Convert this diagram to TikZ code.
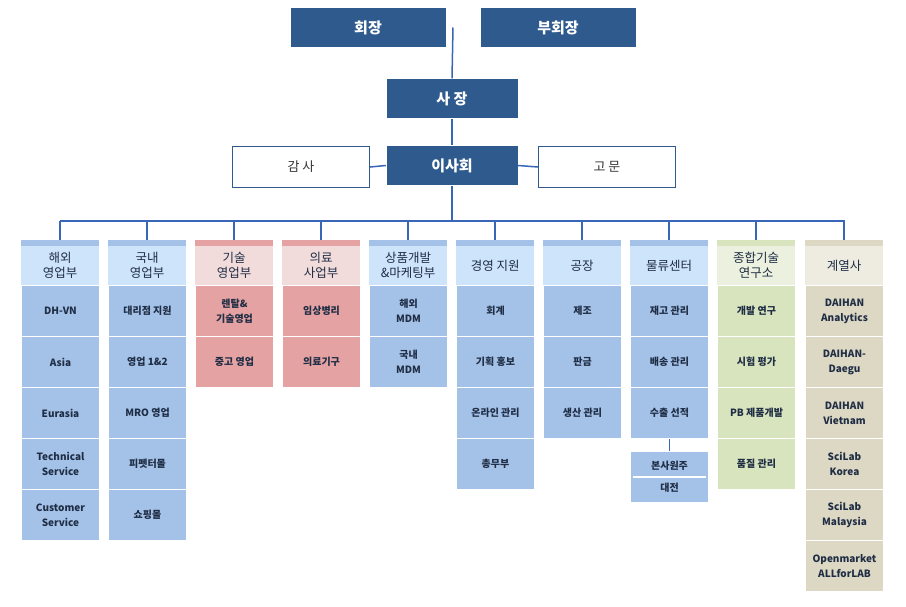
\documentclass[tikz,border=0pt]{standalone}
\usepackage{fontspec}
\setmainfont{Noto Sans CJK KR}
\begin{document}
\begin{tikzpicture}[x=1pt,y=-1pt,
  title/.style={draw=white,fill=titleblue,text=white,font=\fontsize{15}{17}\selectfont\bfseries,inner sep=0pt,align=center},
  wbox/.style={draw=titleblue,line width=1.2pt,fill=white,text=black!80,font=\fontsize{13}{15}\selectfont,inner sep=0pt},
  cell/.style={draw=white,line width=1pt,inner sep=0pt,align=center,text=txt,font=\fontsize{10}{15}\selectfont\bfseries,minimum width=78pt},
  hdr/.style={inner sep=0pt,align=center,text=txt,font=\fontsize{12.5}{15}\selectfont,minimum width=78pt},
  conn/.style={draw=linkblue,line width=1.5pt}]
\definecolor{titleblue}{HTML}{2F5A8E}
\definecolor{linkblue}{HTML}{3A66B8}
\definecolor{txt}{HTML}{1F2D45}
\definecolor{bc}{HTML}{A4C2E8}\definecolor{bh}{HTML}{CDE4FA}
\definecolor{rc}{HTML}{E4A2A2}\definecolor{rh}{HTML}{F2DCDB}
\definecolor{gc}{HTML}{D8E4BD}\definecolor{gh}{HTML}{EBF1DE}
\definecolor{tc}{HTML}{DDD8C3}\definecolor{th}{HTML}{EEECE1}
\useasboundingbox (0,0) rectangle (906,606);
\fill[white] (0,0) rectangle (906,606);
% top
\node[title,minimum width=156pt,minimum height=40pt] (chair) at (368,27.5) {회장};
\node[title,minimum width=156pt,minimum height=40pt] (vice) at (558,27.5) {부회장};
\coordinate (mid) at (453,27.5);
\node[title,minimum width=132pt,minimum height=40pt] (pres) at (452,98.5) {사 장};
\node[title,minimum width=132pt,minimum height=40pt] (board) at (452,165.5) {이사회};
\node[wbox,minimum width=137pt,minimum height=41pt] (audit) at (301,167) {감 사};
\node[wbox,minimum width=137pt,minimum height=41pt] (adv) at (607,167) {고 문};
\draw[conn] (mid) -- (pres.north);
\draw[conn] (pres.south) -- (board.north);
\draw[conn] (audit.east) -- (board.west);
\draw[conn] (board.east) -- (adv.west);
\coordinate (hl) at (60,221);
\coordinate (hr) at (845,221);
\coordinate (hm) at (452,221);
\draw[conn] (board.south) -- (hm);
\draw[conn] (hl) -- (hr);
% columns
\newcommand{\mkcol}[6]{% index, x-left, header-fill, cell-fill, header text, cells
  \fill[#4] (#2,240) rectangle ++(78,6);
  \node[hdr,fill=#3,minimum height=39pt,anchor=north west] (h#1) at (#2,246) {#5};
  \draw[conn] (#2+39,221) -- (#2+39,240);
  \foreach \t [count=\i] in {#6}{
    \node[cell,fill=#4,minimum height=51pt,anchor=north west] (c#1-\i) at (#2,285+51*\i-51) {\t};
  }}
\mkcol{1}{21}{bh}{bc}{해외\\영업부}{DH-VN,Asia,Eurasia,Technical\\Service,Customer\\Service}
\mkcol{2}{108}{bh}{bc}{국내\\영업부}{대리점 지원,영업 1\&2,MRO 영업,피펫터몰,쇼핑몰}
\mkcol{3}{195}{rh}{rc}{기술\\영업부}{렌탈\&\\기술영업,중고 영업}
\mkcol{4}{282}{rh}{rc}{의료\\사업부}{임상병리,의료기구}
\mkcol{5}{369}{bh}{bc}{상품개발\\\&마케팅부}{해외\\MDM,국내\\MDM}
\mkcol{6}{456}{bh}{bc}{경영 지원}{회계,기획 홍보,온라인 관리,총무부}
\mkcol{7}{543}{bh}{bc}{공장}{제조,판금,생산 관리}
\mkcol{8}{630}{bh}{bc}{물류센터}{재고 관리,배송 관리,수출 선적}
\mkcol{9}{717}{gh}{gc}{종합기술\\연구소}{개발 연구,시험 평가,PB 제품개발,품질 관리}
\mkcol{10}{805}{th}{tc}{계열사}{DAIHAN\\Analytics,DAIHAN-\\Daegu,DAIHAN\\Vietnam,SciLab\\Korea,SciLab\\Malaysia,Openmarket\\ALLforLAB}
% branch office
\node[cell,fill=bc,minimum height=51pt,anchor=north west,align=center] (branch) at (630,451) {본사원주\\[7pt]대전};
\draw[white,line width=1.2pt] ([xshift=3pt]branch.west) -- ([xshift=-3pt]branch.east);
\draw[conn] (c8-3.south) -- (branch.north);
\end{tikzpicture}
\end{document}
